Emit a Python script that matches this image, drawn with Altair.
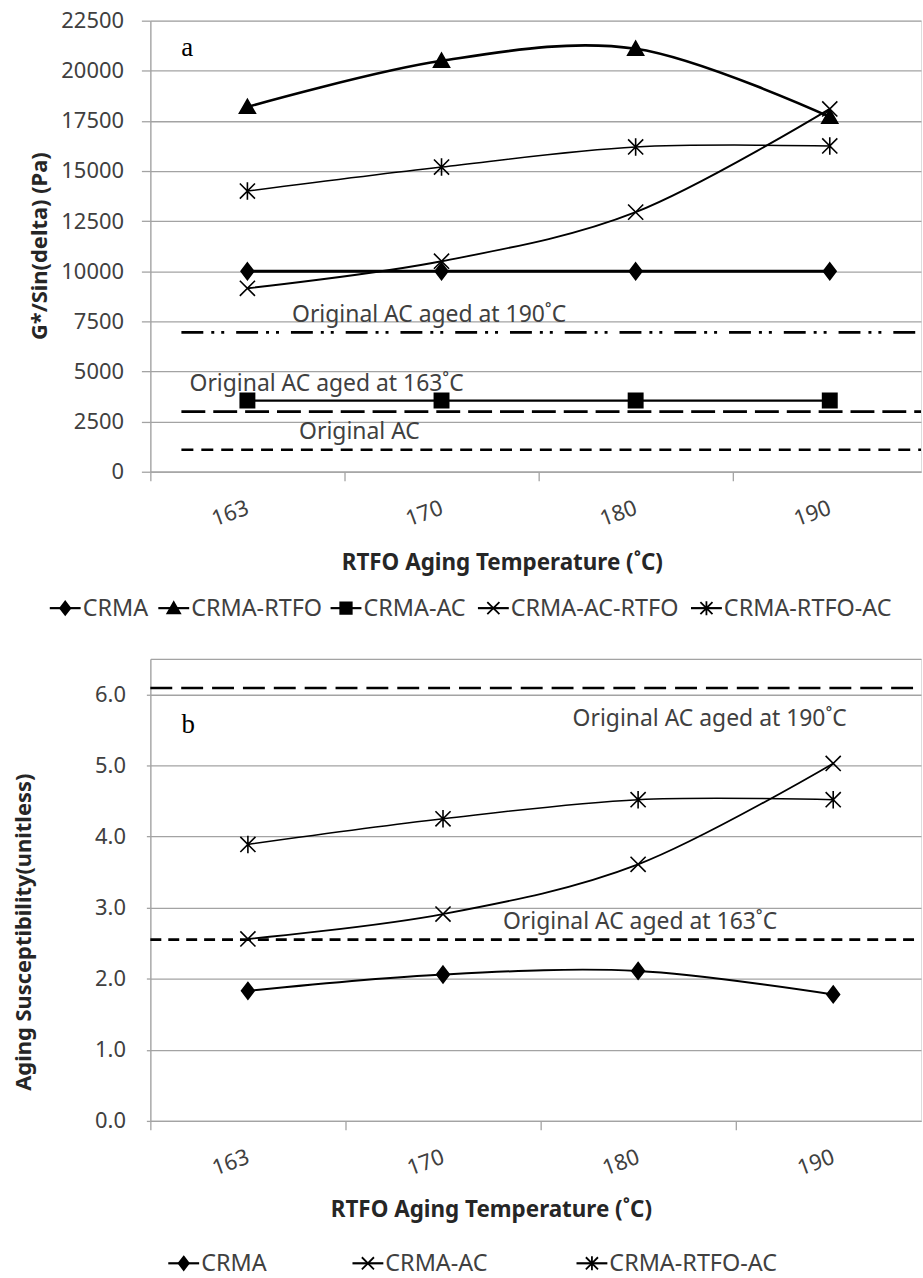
import altair as alt
import pandas as pd

# ---------------------------------------------------------------- data
temps = ["163", "170", "180", "190"]

# panel a: G*/sin(delta) in Pa
series_a = ["CRMA", "CRMA-RTFO", "CRMA-AC", "CRMA-AC-RTFO", "CRMA-RTFO-AC"]
crma_a = [10000, 10000, 10000, 10000]
crma_rtfo_a = [18200, 20500, 21100, 17700]
crma_ac_a = [3550, 3550, 3550, 3550]
crma_ac_rtfo_a = [9150, 10500, 12950, 18100]
crma_rtfo_ac_a = [14000, 15200, 16200, 16250]
ref_names_a = ["Original AC aged at 190˚C", "Original AC aged at 163˚C", "Original AC"]
ref_values_a = [6950, 3000, 1100]

# panel b: aging susceptibility (unitless)
series_b = ["CRMA", "CRMA-AC", "CRMA-RTFO-AC"]
crma_b = [1.83, 2.06, 2.11, 1.78]
crma_ac_b = [2.56, 2.91, 3.61, 5.03]
crma_rtfo_ac_b = [3.89, 4.25, 4.52, 4.52]
ref_names_b = ["Original AC aged at 190˚C", "Original AC aged at 163˚C"]
ref_values_b = [6.09, 2.55]

# ---------------------------------------------------------------- styling
FONT = "Noto Sans"
GRID = "#a3a3a3"
TXT = "#404040"
X_TITLE = "RTFO Aging Temperature (˚C)"

DIAMOND = [([(0, -1.05), (0.8, 0), (0, 1.05), (-0.8, 0)], True)]
TRIANGLE = [([(0, -0.95), (1.0, 0.8), (-1.0, 0.8)], True)]
SQUARE = [([(-0.9, -0.9), (0.9, -0.9), (0.9, 0.9), (-0.9, 0.9)], True)]
XMARK = [([(-0.95, -0.95), (0.95, 0.95)], False), ([(-0.95, 0.95), (0.95, -0.95)], False)]
ASTER = XMARK + [([(0, -1.1), (0, 1.1)], False)]


def to_path(parts, k=1.0):
    out = []
    for pts, closed in parts:
        out.append("M" + "L".join(f"{x * k:.3f},{y * k:.3f}" for x, y in pts) + ("Z" if closed else ""))
    return "".join(out)


def long_table(names, columns):
    rows = []
    for name, vals in zip(names, columns):
        for i, v in enumerate(vals):
            rows.append({"series": name, "x": i, "temp": temps[i], "value": v})
    return pd.DataFrame(rows)


def legend_layers(names, markers, starts, y):
    """Excel-style key: short line with the marker on it, then the name."""
    layers = []
    for name, m, x0 in zip(names, markers, starts):
        layers.append(alt.Chart().mark_rule(color="black", strokeWidth=2.2).encode(
            x=alt.value(x0), x2=alt.value(x0 + 31), y=alt.value(y)))
        layers.append(alt.Chart().mark_point(
            shape=to_path(m, k=0.8), filled=True, fill="black", stroke="black", strokeWidth=1.8, size=256, opacity=1
        ).encode(x=alt.value(x0 + 15.5), y=alt.value(y)))
        layers.append(alt.Chart().mark_text(
            font=FONT, fontSize=23.5, color=TXT, align="left", baseline="middle"
        ).encode(x=alt.value(x0 + 33), y=alt.value(y + 1), text=alt.value(name)))
    return layers


def panel(names, columns, ref_names, ref_vals, cfg):
    df = long_table(names, columns)
    n = len(temps)
    markers = cfg["markers"]
    xscale = alt.Scale(domain=[-0.5, cfg["xmax"]], nice=False, zero=False)
    yscale = alt.Scale(domain=cfg["ydomain"], nice=False, zero=False)

    tick_vals = sorted([i for i in range(n)] + [i + 0.5 for i in range(-1, n - 1)])
    label_expr = "datum.value % 1 === 0 ? [" + ",".join(f"'{t}'" for t in temps) + "][datum.value] : ''"
    x_axis = alt.Axis(
        values=tick_vals, labelExpr=label_expr,
        tickOpacity={"condition": {"test": "datum.value % 1 === 0", "value": 0}, "value": 1},
        tickSize=9, tickColor=GRID, tickWidth=1.3, domainColor=GRID, domainWidth=1.3,
        grid=False, labelAngle=340, labelAlign="right", labelBaseline="middle",
        labelPadding=cfg["xlabel_pad"], labelFont=FONT, labelFontSize=22, labelColor=TXT,
        labelFlush=False, labelOverlap=False, labelBound=False,
        title=X_TITLE, titleFont=FONT, titleFontSize=22.5, titleFontWeight="bold", titleColor="#262626",
        titleX=cfg["xtitle_x"], titleY=cfg["xtitle_y"], titleAlign="center", titleBaseline="middle",
    )
    y_axis = alt.Axis(
        values=cfg["yvalues"], format=cfg["yfmt"],
        labelExpr=f"datum.value > {cfg['ylabel_max']} ? '' : datum.label",
        tickOpacity={"condition": {"test": f"datum.value > {cfg['ylabel_max']}", "value": 0}, "value": 1},
        grid=True, gridColor=GRID, gridWidth=1.3, domainColor=GRID, domainWidth=1.3,
        tickSize=cfg["ytick"], tickColor=GRID, tickWidth=1.3,
        labelPadding=cfg["ylabel_pad"], labelFont=FONT, labelFontSize=22, labelColor=TXT,
        labelFlush=False, labelOverlap=False,
        title=cfg["ytitle"], titleFont=FONT, titleFontSize=22, titleFontWeight="bold", titleColor="#262626",
        titleAngle=270, titleX=cfg["ytitle_x"], titleY=cfg["ytitle_y"],
        titleAlign="center", titleBaseline="middle",
    )

    X = alt.X("x:Q", scale=xscale, axis=x_axis)
    Y = alt.Y("value:Q", scale=yscale, axis=y_axis)

    # horizontal reference levels of the original binder
    refs = pd.DataFrame({"name": ref_names, "value": ref_vals,
                         "x": [cfg["ref_start"]] * len(ref_names),
                         "x_end": [cfg["xmax"]] * len(ref_names)})
    ref_layer = alt.Chart(refs).mark_rule(color="black", strokeWidth=2.6).encode(
        x=X, x2="x_end:Q", y=Y,
        strokeDash=alt.StrokeDash("name:N", scale=alt.Scale(domain=ref_names, range=cfg["dashes"]), legend=None),
    )

    notes = pd.DataFrame({"label": cfg["note_text"], "x": cfg["note_x"], "value": cfg["note_y"]})
    note_layer = alt.Chart(notes).mark_text(
        font=FONT, fontSize=23, color=TXT, align="center", baseline="alphabetic"
    ).encode(x=X, y=Y, text="label:N")

    letter = pd.DataFrame({"label": [cfg["letter"]], "x": [cfg["letter_x"]], "value": [cfg["letter_y"]]})
    letter_layer = alt.Chart(letter).mark_text(
        font="Liberation Serif", fontSize=27, color="black", align="center", baseline="alphabetic"
    ).encode(x=X, y=Y, text="label:N")

    line_layer = alt.Chart(df).mark_line(interpolate="cardinal", tension=0, color="black").encode(
        x=X, y=Y, detail="series:N",
        strokeWidth=alt.StrokeWidth("series:N", scale=alt.Scale(domain=names, range=cfg["widths"]), legend=None),
    )

    # one point layer per series, each with its own marker outline
    point_layers = [
        alt.Chart(df).transform_filter(alt.datum.series == s).mark_point(
            shape=to_path(m), filled=True, fill="black", stroke="black",
            strokeWidth=1.6, size=256, opacity=1,
        ).encode(x=X, y=Y)
        for s, m in zip(names, markers)
    ]

    key = legend_layers(names, markers, cfg["legend_starts"], cfg["legend_y"])

    return alt.layer(
        note_layer, letter_layer, ref_layer, line_layer, *point_layers, *key
    ).properties(width=774, height=cfg["height"])


cfg_a = dict(
    markers=[DIAMOND, TRIANGLE, SQUARE, XMARK, ASTER],
    xmax=3.47, ydomain=[0, 22500], yvalues=list(range(0, 22501, 2500)), yfmt="d", ylabel_max=22500,
    ytick=9, ylabel_pad=18, height=453, xlabel_pad=26, xtitle_x=353, xtitle_y=91,
    ytitle="G*/Sin(delta) (Pa)", ytitle_x=-111, ytitle_y=226,
    ref_start=-0.34, dashes=[[22, 8, 3, 7, 3, 12], [24, 8], [12, 8]],
    widths=[3, 1.5, 3, 1.5, 1.5],
    note_text=ref_names_a, note_x=[0.936, 0.408, 0.577], note_y=[7450, 4020, 1624],
    letter="a", letter_x=-0.31, letter_y=20760,
    legend_starts=[-101, 8, 181, 329, 543], legend_y=590,
)

cfg_b = dict(
    markers=[DIAMOND, XMARK, ASTER],
    xmax=3.45, ydomain=[0, 6.5], yvalues=[0, 1, 2, 3, 4, 5, 6, 6.5], yfmt=".1f", ylabel_max=6,
    ytick=4, ylabel_pad=21, height=464, xlabel_pad=26, xtitle_x=342, xtitle_y=89,
    ytitle="Aging Susceptibility(unitless)", ytitle_x=-127, ytitle_y=274,
    ref_start=-0.5, dashes=[[22, 9], [11, 7]],
    widths=[2, 1.5, 1.5],
    note_text=ref_names_b, note_x=[2.367, 2.01], note_y=[5.56, 2.70],
    letter="b", letter_x=-0.306, letter_y=5.46,
    legend_starts=[18, 203, 428], legend_y=607,
)

top = panel(series_a, [crma_a, crma_rtfo_a, crma_ac_a, crma_ac_rtfo_a, crma_rtfo_ac_a],
            ref_names_a, ref_values_a, cfg_a)
bottom = panel(series_b, [crma_b, crma_ac_b, crma_rtfo_ac_b], ref_names_b, ref_values_b, cfg_b)

chart = alt.vconcat(top, bottom, spacing=26).resolve_scale(
    strokeDash="independent", strokeWidth="independent", x="independent", y="independent",
).properties(
    padding={"left": 12, "top": 6, "right": 0, "bottom": 0}
).configure_view(strokeWidth=0).configure(background="white")

chart.save("out.html", embed_options={"renderer": "svg", "actions": False})
